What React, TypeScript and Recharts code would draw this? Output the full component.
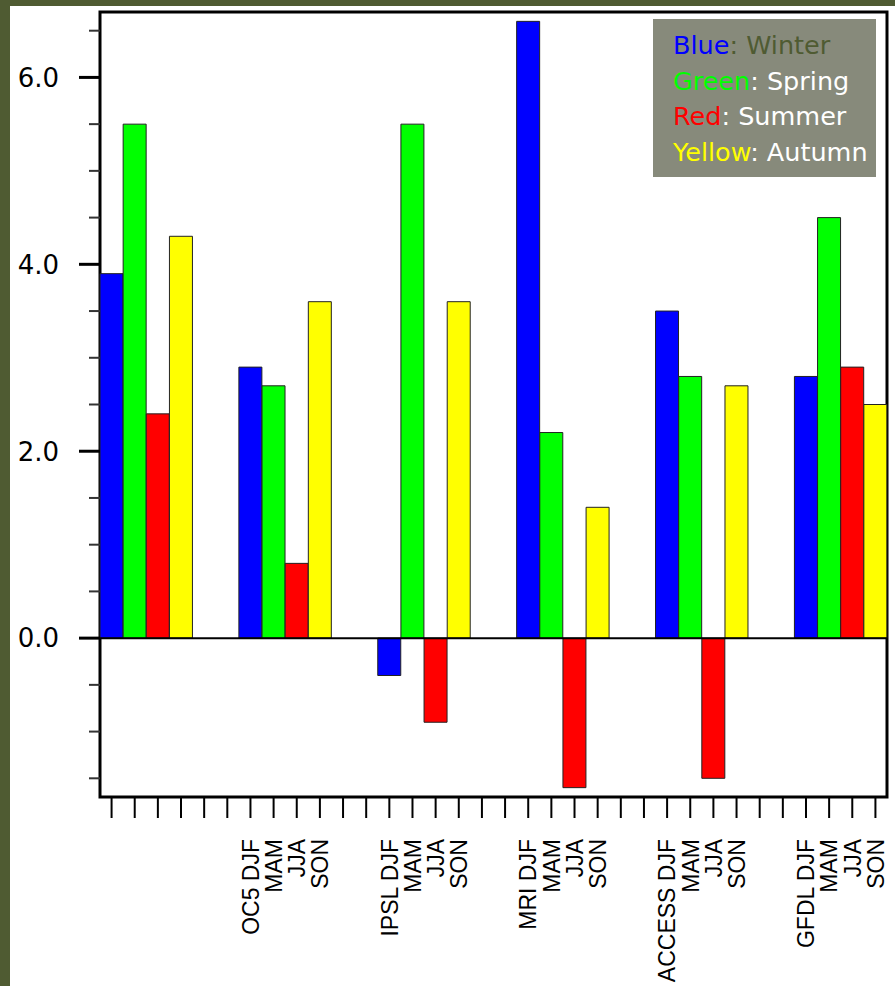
import { Bar, BarChart, Cell, ReferenceArea, ReferenceLine, XAxis, YAxis } from "recharts";

const OLIVE = "#4f5b32";
const SEASON_COLORS = ["#0000ff", "#00ff00", "#ff0000", "#ffff00"];

// 34 slots: six groups of four seasons, two empty slots between groups
const SLOT_LABELS = [
  "", "", "", "", "", "",
  "OC5 DJF", "MAM", "JJA", "SON", "", "",
  "IPSL DJF", "MAM", "JJA", "SON", "", "",
  "MRI DJF", "MAM", "JJA", "SON", "", "",
  "ACCESS DJF", "MAM", "JJA", "SON", "", "",
  "GFDL DJF", "MAM", "JJA", "SON",
];

const VALUES: (number | null)[] = [
  3.9, 5.5, 2.4, 4.3, null, null,
  2.9, 2.7, 0.8, 3.6, null, null,
  -0.4, 5.5, -0.9, 3.6, null, null,
  6.6, 2.2, -1.6, 1.4, null, null,
  3.5, 2.8, -1.5, 2.7, null, null,
  2.8, 4.5, 2.9, 2.5,
];

const Y_DOMAIN = [-1.7, 6.7];
const Y_TICKS = [-1.5, -1, -0.5, 0, 0.5, 1, 1.5, 2, 2.5, 3, 3.5, 4, 4.5, 5, 5.5, 6, 6.5];
const Y_LABELS = [0, 2, 4, 6];

const LEGEND_ITEMS = [
  { word: "Blue", color: "#0000ff", season: "Winter", seasonColor: OLIVE },
  { word: "Green", color: "#00ff00", season: "Spring", seasonColor: "#ffffff" },
  { word: "Red", color: "#ff0000", season: "Summer", seasonColor: "#ffffff" },
  { word: "Yellow", color: "#ffff00", season: "Autumn", seasonColor: "#ffffff" },
];

const data = VALUES.map((v, i) => ({ slot: i, value: v, season: i % 6 }));

function YTick(props: any) {
  const { x, y, payload } = props;
  const major = Y_LABELS.includes(payload.value);
  return (
    <g>
      <line
        x1={x - (major ? 21 : 11)}
        x2={x}
        y1={y}
        y2={y}
        stroke={major ? "#000" : "#333"}
        strokeWidth={major ? 3 : 2}
      />
      {major && (
        <text
          x={x - 41}
          y={y}
          dy="0.36em"
          textAnchor="end"
          fontFamily="DejaVu Sans"
          fontSize={26}
          fill="#000"
        >
          {payload.value.toFixed(1)}
        </text>
      )}
    </g>
  );
}

function XTick(props: any) {
  const { x, y, payload } = props;
  const label = SLOT_LABELS[payload.value];
  const ty = y + 42;
  return (
    <g>
      <line x1={x} x2={x} y1={y} y2={y + 21} stroke="#000" strokeWidth={2} />
      {label && (
        <text
          x={x}
          y={ty}
          dy="0.36em"
          textAnchor="end"
          transform={`rotate(-90, ${x}, ${ty})`}
          fontFamily="Liberation Sans, Arial, sans-serif"
          fontSize={23}
          fill="#000"
        >
          {label}
        </text>
      )}
    </g>
  );
}

function LegendBox() {
  return (
    <div
      style={{
        position: "absolute",
        left: 653,
        top: 19,
        background: "#878a7b",
        width: 203,
        height: 149,
        padding: "9px 0 0 20px",
        overflow: "hidden",
        whiteSpace: "nowrap",
        fontFamily: "DejaVu Sans",
        fontSize: 25.5,
        lineHeight: "35.5px",
      }}
    >
      {LEGEND_ITEMS.map((it) => (
        <div key={it.word}>
          <span style={{ color: it.color }}>{it.word}</span>
          <span style={{ color: it.seasonColor }}>: {it.season}</span>
        </div>
      ))}
    </div>
  );
}

export default function App() {
  return (
    <div
      style={{
        position: "absolute",
        left: 0,
        top: 0,
        width: 895,
        height: 986,
        background: OLIVE,
        overflow: "hidden",
      }}
    >
      <div
        style={{
          position: "absolute",
          left: 10,
          top: 6,
          width: 885,
          height: 980,
          background: "#fff",
        }}
      />
      <div style={{ position: "absolute", left: 0, top: 0 }}>
        <BarChart
          width={895}
          height={986}
          data={data}
          margin={{ top: 12, right: 8, left: 10, bottom: 0 }}
          barCategoryGap={0}
          barGap={0}
        >
          <XAxis
            dataKey="slot"
            height={189}
            interval={0}
            tickSize={0}
            tickMargin={0}
            tickLine={false}
            axisLine={false}
            tick={<XTick />}
          />
          <YAxis
            width={90}
            type="number"
            domain={Y_DOMAIN}
            ticks={Y_TICKS}
            interval={0}
            allowDataOverflow
            tickSize={0}
            tickMargin={0}
            tickLine={false}
            axisLine={false}
            tick={<YTick />}
          />
          <ReferenceLine y={0} stroke="#000" strokeWidth={2} />
          <Bar dataKey="value" stroke="#222" strokeWidth={1} isAnimationActive={false}>
            {data.map((d) => (
              <Cell key={d.slot} fill={SEASON_COLORS[d.season] ?? "none"} />
            ))}
          </Bar>
          <ReferenceArea
            x1={0}
            x2={VALUES.length - 1}
            y1={Y_DOMAIN[0]}
            y2={Y_DOMAIN[1]}
            fill="none"
            fillOpacity={0}
            stroke="#000"
            strokeWidth={3}
            strokeOpacity={1}
            ifOverflow="visible"
          />
        </BarChart>
      </div>
      <LegendBox />
    </div>
  );
}
